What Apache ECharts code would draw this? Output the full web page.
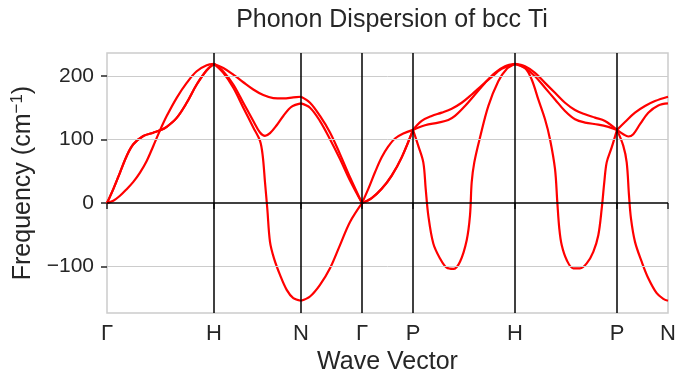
<!DOCTYPE html>
<html>
<head>
<meta charset="utf-8">
<script src="https://cdn.jsdelivr.net/npm/echarts@6/dist/echarts.min.js"></script>
<style>
html,body{margin:0;padding:0;background:#fff;}
#chart{width:679px;height:380px;}
</style>
</head>
<body>
<div id="chart"></div>
<script>
// High-symmetry points along the path
const kLabels = ['Γ', 'H', 'N', 'Γ', 'P', 'H', 'P', 'N'];
const kTicks = [0, 107, 194, 255, 306, 408, 510, 561];
const yTicks = [-100, 0, 100, 200];

// Branch 1 (upper)
const branch1 = [
  [0,0],[6.3,21.9],[13,48],[19.7,74],[26.3,92.4],[36.3,105.5],[46.3,110.7],[53,114.4],[59.7,120],[69.7,134],[79.7,157.7],[89.7,186.4],[99.7,208.9],[107,218.8],
  [116.3,212.5],[126.3,202],[136.3,190],[146.3,178.6],[156.3,169.8],[166.3,165.1],[176.3,164.6],[186.3,166.1],[194,167.2],
  [203,157.8],[213,137],[223,111],[233,77],[243,40.6],[255,0],
  [261.3,22.4],[268,48.4],[274.7,71.9],[281.3,89],[288,101.6],[296.3,109.4],[306,115.1],
  [314.7,129.2],[324.7,137],[334.7,142.2],[344.7,148.4],[354.7,157.8],[364.7,170.8],[374.7,184.9],[384.7,198.4],[394.7,211],[408,218.8],
  [418,215.1],[428,204.7],[438,189],[448,173.4],[458,157.8],[468,146.4],[478,139.6],[488,134.4],[498,129.2],[510,115.1],
  [518,127.6],[528,142.2],[538,152.6],[548,160.4],[561,167.2]
];

// Branch 2 (middle)
const branch2 = [
  [0,0],[6.3,3.7],[13,11.5],[19.7,21.9],[26.3,33.4],[33,48],[39.7,66.3],[46.3,89.8],[53,114.4],[59.7,136.8],[69.7,165.5],[79.7,189],[89.7,207.3],[99.7,216.7],[107,218.8],
  [116.3,207],[126.3,186.5],[136.3,157.8],[146.3,129],[153,111],[158,105.7],[163,110],[169.7,122.4],[176.3,137],[184.7,151.6],[194,156.8],
  [203,150],[213,129],[223,100.5],[233,69.3],[243,35.4],[255,0],
  [264.7,7.8],[274.7,22.4],[284.7,43.2],[294.7,71.9],[306,115.1],
  [318,122.4],[331.3,126.6],[341.3,130.7],[348,137],[358,152.6],[368,170.8],[378,189],[388,204.7],[398,215.1],[408,218.8],
  [418,212.5],[428,199.5],[438,181.3],[448,163],[458,144.8],[468,131.8],[478,126.6],[491.3,123.4],[501.3,119.8],[510,115.1],
  [516.3,108.3],[521.3,104.7],[526.3,108.3],[533,124],[541.3,142.2],[551.3,153.6],[561,156.8]
];

// Branch 3 (lower, imaginary modes)
const branch3 = [
  [0,0],[6.3,21.9],[13,48],[19.7,74],[26.3,92.4],[36.3,105.5],[46.3,110.7],[53,114.4],[59.7,120],[69.7,134],[79.7,157.7],[89.7,186.4],[99.7,208.9],[107,218.8],
  [116.3,204.7],[126.3,181.3],[136.3,150],[146.3,118.8],[153,97.9],[155.7,74.5],[158,32.8],[160.3,-8.9],[163,-61],[167,-87],[173,-113],[179.7,-136.5],[186.3,-149.5],[194,-153.6],
  [203,-146.9],[213,-128.6],[223,-102.6],[233,-66.1],[243,-29.7],[255,0],
  [264.7,7.8],[274.7,22.4],[284.7,43.2],[294.7,71.9],[306,115.1],
  [311.3,90],[316.3,64],[318.7,22.4],[321.3,-19.3],[326.3,-63.5],[333,-87],[339.7,-101.6],[346.3,-103.6],[353,-92.2],[359.7,-58.3],[363,-19.3],[364.7,32.8],[367.3,64],[373,103.1],[381.3,152.6],[391.3,191.7],[399.7,211],[408,218.8],
  [418,212.5],[424.7,194.3],[431.3,163],[438,131.8],[443,100.5],[448,53.6],[450.3,1.6],[452.3,-40.1],[454.7,-66.1],[459.7,-89.6],[466.3,-102.6],[473,-102.6],[479.7,-94.8],[486.3,-76.6],[491.3,-50.5],[494.7,-8.9],[497.3,32.8],[499.7,64],[504.7,87.5],[510,115.1],
  [516.3,90],[519.7,64],[522,12],[524,-24.5],[528,-61],[534.7,-92.2],[541.3,-118.2],[549.7,-141.7],[556.3,-150.5],[561,-153.6]
];

const branches = [branch1, branch2, branch3];
const FONT = 'Liberation Sans, Arial, sans-serif';
const TXT = '#262626';

const series = [];
// reference lines (symmetry points, zero line, grid lines)
series.push({
  type: 'line', data: [], z: 1, silent: true, showSymbol: false,
  markLine: {
    silent: true, symbol: 'none', animation: false, label: {show: false},
    data: [
      ...[-100, 100, 200].map(v => ({yAxis: v, lineStyle: {color: '#cccccc', width: 1, type: 'solid'}})),
      {yAxis: 0, lineStyle: {color: '#000', width: 1.5, type: 'solid'}},
      ...kTicks.slice(1, -1).map(v => ({xAxis: v, lineStyle: {color: '#000', width: 1.5, type: 'solid'}}))
    ]
  }
});
branches.forEach(br => {
  for (let i = 0; i < kTicks.length - 1; i++) {
    const a = kTicks[i], b = kTicks[i + 1];
    const pts = br.filter(p => p[0] >= a && p[0] <= b);
    series.push({
      type: 'line', data: pts, smooth: 0.35, showSymbol: false, silent: true, z: 3,
      lineStyle: {color: '#ff0000', width: 2.2}, animation: false
    });
  }
});

const chart = echarts.init(document.getElementById('chart'));
chart.setOption({
  animation: false,
  backgroundColor: '#fff',
  title: {
    text: 'Phonon Dispersion of bcc Ti',
    left: 387, top: 3, textAlign: 'center',
    textStyle: {fontFamily: FONT, fontSize: 25, fontWeight: 'normal', color: TXT}
  },
  grid: {left: 107, right: 11, top: 53, bottom: 65, show: true, borderColor: '#cccccc', borderWidth: 1.5, backgroundColor: 'transparent'},
  xAxis: {
    type: 'value', min: 0, max: 561,
    name: 'Wave Vector', nameLocation: 'middle', nameGap: 33,
    nameTextStyle: {fontFamily: FONT, fontSize: 25, color: TXT},
    axisLine: {show: false},
    splitLine: {show: false},
    axisTick: {show: true, customValues: kTicks, length: 6, inside: false, lineStyle: {color: TXT, width: 1.5}},
    axisLabel: {
      customValues: kTicks, margin: 10, fontFamily: FONT, fontSize: 22, color: TXT,
      formatter: v => kLabels[kTicks.indexOf(v)] || ''
    }
  },
  yAxis: {
    type: 'value', min: -173, max: 236,
    name: 'Frequency (cm{sup|−1})', nameLocation: 'middle', nameGap: 63, nameRotate: 90,
    nameTextStyle: {fontFamily: FONT, fontSize: 25, color: TXT,
      rich: {sup: {fontFamily: FONT, fontSize: 17, color: TXT, verticalAlign: 'top', padding: [0, 0, 12, 0]}}},
    axisLine: {show: false},
    splitLine: {show: false},
    axisTick: {show: true, customValues: yTicks, length: 6, lineStyle: {color: TXT, width: 1.5}},
    axisLabel: {
      customValues: yTicks, margin: 13, fontFamily: FONT, fontSize: 21, color: TXT,
      formatter: v => String(v).replace('-', '−')
    }
  },
  series: series
});
</script>
</body>
</html>
